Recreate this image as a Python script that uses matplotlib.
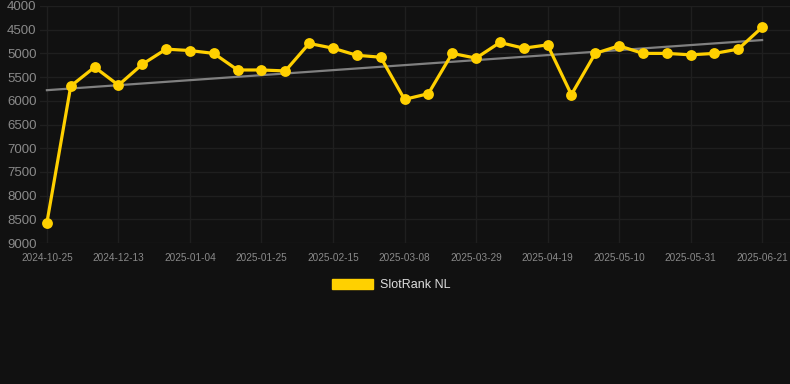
""" SlotRank NL weekly rank chart """

import numpy as np
import matplotlib
matplotlib.use('Agg')
import matplotlib.pyplot as plt
from matplotlib.patches import Patch

# data

dates = ['2024-10-25', '2024-11-08', '2024-11-22', '2024-12-13', '2024-12-20',
         '2024-12-27', '2025-01-04', '2025-01-11', '2025-01-18', '2025-01-25',
         '2025-02-01', '2025-02-08', '2025-02-15', '2025-02-22', '2025-03-01',
         '2025-03-08', '2025-03-15', '2025-03-22', '2025-03-29', '2025-04-05',
         '2025-04-12', '2025-04-19', '2025-04-26', '2025-05-03', '2025-05-10',
         '2025-05-17', '2025-05-24', '2025-05-31', '2025-06-07', '2025-06-14',
         '2025-06-21']
ranks = [8570, 5690, 5290, 5670, 5230, 4910, 4940, 5000, 5350, 5350,
         5370, 4790, 4890, 5040, 5080, 5970, 5850, 5000, 5100, 4770,
         4890, 4820, 5870, 5000, 4840, 5000, 5000, 5030, 5000, 4910,
         4450]
yticks = [4000, 4500, 5000, 5500, 6000, 6500, 7000, 7500, 8000, 8500, 9000]
label_step = 3

# colours

BG = '#111111'
GRID = '#1f1f1f'
TICK = '#8a8a8a'
GOLD = '#ffd000'

plt.rcParams['font.family'] = ['Liberation Sans', 'DejaVu Sans']

fig = plt.figure(figsize=(7.9, 3.84), dpi=100, facecolor=BG)
ax = fig.add_axes([40/790, 1-243/384, 750/790, 237/384], facecolor=BG)

x = np.arange(len(ranks))

# trend line (least squares)

coef = np.polyfit(x, ranks, 1)
ax.plot(x, np.polyval(coef, x), color='#808080', linewidth=1.6, zorder=2)

# series

ax.plot(x, ranks, color=GOLD, linewidth=2.3, marker='o', markersize=7.8,
        markeredgewidth=0, zorder=3)

# axes design

ax.set_ylim(9000, 4000)
ax.set_yticks(yticks)
ax.set_xlim(-0.29, 31.17)
ax.set_xticks(x[::label_step])
ax.set_xticklabels(dates[::label_step])
ax.grid(True, color=GRID, linewidth=1)
ax.set_axisbelow(True)
for s in ax.spines.values():
    s.set_visible(False)
ax.tick_params(axis='y', length=0, pad=2.5, labelsize=9.5, colors=TICK)
ax.tick_params(axis='x', length=0, pad=7, labelsize=7.2, colors=TICK)

# legend

handle = Patch(facecolor=GOLD, edgecolor=GOLD, label='SlotRank NL')
fig.legend(handles=[handle], loc='center', bbox_to_anchor=(391/790, 1-285/384),
           frameon=False, fontsize=9, labelcolor='#dddddd',
           handlelength=3.3, handleheight=0.95, handletextpad=0.5)

fig.savefig('out.png', dpi=100, facecolor=BG)
